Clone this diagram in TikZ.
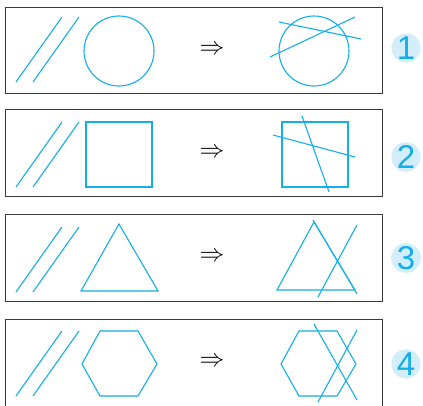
\documentclass[tikz,border=0pt]{standalone}
\usepackage{fontspec}
\newfontfamily\numfont{Liberation Sans}
\usepackage{tikz}
\usetikzlibrary{positioning}
\definecolor{lineblue}{HTML}{14AEE8}
\definecolor{badgeblue}{HTML}{D3EDFA}
\definecolor{frame}{HTML}{3A3A3A}

\begin{document}
\begin{tikzpicture}[x=1pt,y=-1pt,
	fig/.style={lineblue, line width=1.1pt},
	box/.style={frame, line width=1pt},
	badge/.style={circle, fill=badgeblue, minimum size=28pt, inner sep=0pt,
		text=lineblue, font=\numfont\fontsize{33}{33}\selectfont},
	imply/.style={inner sep=0pt, font=\fontsize{28}{28}\selectfont}]
	\useasboundingbox (0,0) rectangle (423,405);
	
	% 四个边框
	\foreach \t/\b in {7/93, 109/196, 214/301, 319/406}
		\draw[box] (5,\t) rectangle (382,\b);
	
	% 左边的两条平行线
	\foreach \t/\b in {17/82, 122/187, 227/292, 331/396} {
		\draw[fig] (16,\b) -- (62,\t);
		\draw[fig] (33,\b) -- (79,\t);
	}
	
	% 箭头
	\node[imply] (arr1) at (212,50) {$\Rightarrow$};
	\node[imply] (arr2) at (212,153) {$\Rightarrow$};
	\node[imply] (arr3) at (212,257) {$\Rightarrow$};
	\node[imply] (arr4) at (212,362) {$\Rightarrow$};
	
	% 第1行：圆
	\draw[fig] (119,51) circle (35);
	\draw[fig] (314,51) circle (35);
	\draw[fig] (279,22) -- (361,39);
	\draw[fig] (270,57) -- (355,17);
	
	% 第2行：正方形
	\draw[fig] (86,122) rectangle (152,187);
	\draw[fig] (282,122) rectangle (348,187);
	\draw[fig] (302,116) -- (329,192);
	\draw[fig] (273,135) -- (355,157);
	
	% 第3行：三角形
	\draw[fig] (119,224) -- (158,291) -- (81,291) -- cycle;
	\draw[fig] (314,222) -- (355,290) -- (277,290) -- cycle;
	\draw[fig] (313,220) -- (357,294);
	\draw[fig] (357,225) -- (318,297);
	
	% 第4行：正六边形
	\draw[fig] (82,364) -- (100,331) -- (138,331) -- (157,364) -- (138,396) -- (100,396) -- cycle;
	\draw[fig] (281,364) -- (299,331) -- (337,331) -- (356,364) -- (337,396) -- (299,396) -- cycle;
	\draw[fig] (314,324) -- (357,400);
	\draw[fig] (357,330) -- (318,402);
	
	% 编号
	\node[badge] (num1) at (406,48) {1};
	\node[badge] (num2) at (406,157) {2};
	\node[badge] (num3) at (406,258) {3};
	\node[badge] (num4) at (406,364) {4};
\end{tikzpicture}
\end{document}
